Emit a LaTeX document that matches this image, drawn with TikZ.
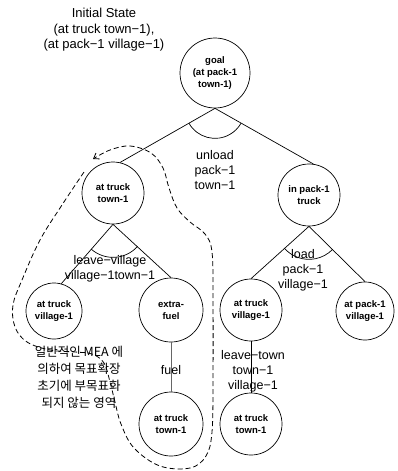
\documentclass[tikz,border=0pt]{standalone}
\usepackage{fontspec}
\setmainfont{Liberation Sans}
\newfontfamily\krfont{Noto Sans CJK KR}
\usetikzlibrary{arrows.meta}
\begin{document}
\begin{tikzpicture}[x=1pt,y=1pt,
  st/.style={circle,draw,line width=0.7pt,inner sep=0pt,align=center,
    font=\fontsize{9.5}{12}\selectfont\bfseries},
  lbl/.style={align=center,inner sep=0pt,font=\fontsize{12.5}{15}\selectfont},
  edge/.style={line width=0.7pt},
  region/.style={line width=0.8pt,dash pattern=on 5pt off 3pt}]
\useasboundingbox (0,0) rectangle (397,-471);
% title
\node[lbl,font=\fontsize{13}{15.5}\selectfont] (init) at (104,-30) {Initial State\\(at truck town−1),\\(at pack−1 village−1)};
% nodes
\node[st,minimum size=70pt] (goal) at (215,-73) {goal\\(at pack-1\\town-1)};
\node[st,minimum size=62pt] (atT1) at (113,-193) {at truck\\town-1};
\node[st,minimum size=62pt] (inP) at (309,-195) {in pack-1\\truck};
\node[st,minimum size=56pt] (atV1L) at (54,-311) {at truck\\village-1};
\node[st,minimum size=64pt] (xfuel) at (171,-310) {extra-\\fuel};
\node[st,minimum size=62pt] (atV1R) at (251,-310) {at truck\\village-1};
\node[st,minimum size=58pt] (atPV) at (365,-311) {at pack-1\\village-1};
\node[st,minimum size=64pt] (atT2L) at (171,-424) {at truck\\town-1};
\node[st,minimum size=62pt] (atT2R) at (251,-424) {at truck\\town-1};
% edges
\draw[edge] (goal.south) -- (atT1.77);
\draw[edge] (goal.south) -- (inP.82);
\draw[edge] ([shift={(210:30)}]goal.south) arc[start angle=210,end angle=330,radius=30];
\draw[edge] (atT1.south) -- (atV1L.75);
\draw[edge] (atT1.south) -- (xfuel.north);
\draw[edge] ([shift={(229:33)}]atT1.south) arc[start angle=229,end angle=318,radius=33];
\draw[edge] (inP.south) -- (atV1R.north);
\draw[edge] (inP.south) -- (atPV.north);
\draw[edge] ([shift={(221:33)}]inP.south) arc[start angle=221,end angle=316,radius=33];
\draw[edge,gray!80!black] (xfuel.south) -- (atT2L.north);
\draw[edge] (atV1R.south) -- (atT2R.north);
% labels
\node[lbl] (lunload) at (215,-170) {unload\\pack−1\\town−1};
\node[lbl] (lleave) at (110,-269) {leave−village\\village−1town−1};
\node[lbl] (lload) at (303,-270) {load\\pack−1\\village−1};
\node[lbl] (lfuel) at (171,-370) {fuel};
\node[lbl] (lleavet) at (253,-371) {leave−town\\town−1\\village−1};
% korean note
\node[align=center,inner sep=0pt,font=\krfont\fontsize{12.5}{17}\selectfont] (note) at (79,-377)
  {일반적인 MEA 에\\의하여 목표확장\\초기에 부목표화\\되지 않는 영역};
% dashed region
\draw[region,-{Straight Barb[length=5pt,width=7pt]}] plot[smooth,tension=0.6] coordinates {
  (84,-172) (62,-205) (40,-240) (22,-280) (13,-305) (15,-327) (27,-342) (50,-350)
  (75,-352) (92,-354) (104,-363) (110,-382) (115,-402) (121,-424) (134,-448)
  (160,-466) (190,-468) (206,-456) (212,-432) (213,-380) (213,-300) (212,-252)
  (205,-234) (190,-222) (177,-208) (169,-188) (163,-168) (151,-153) (130,-146)
  (110,-150) (93,-159)};
\end{tikzpicture}
\end{document}
